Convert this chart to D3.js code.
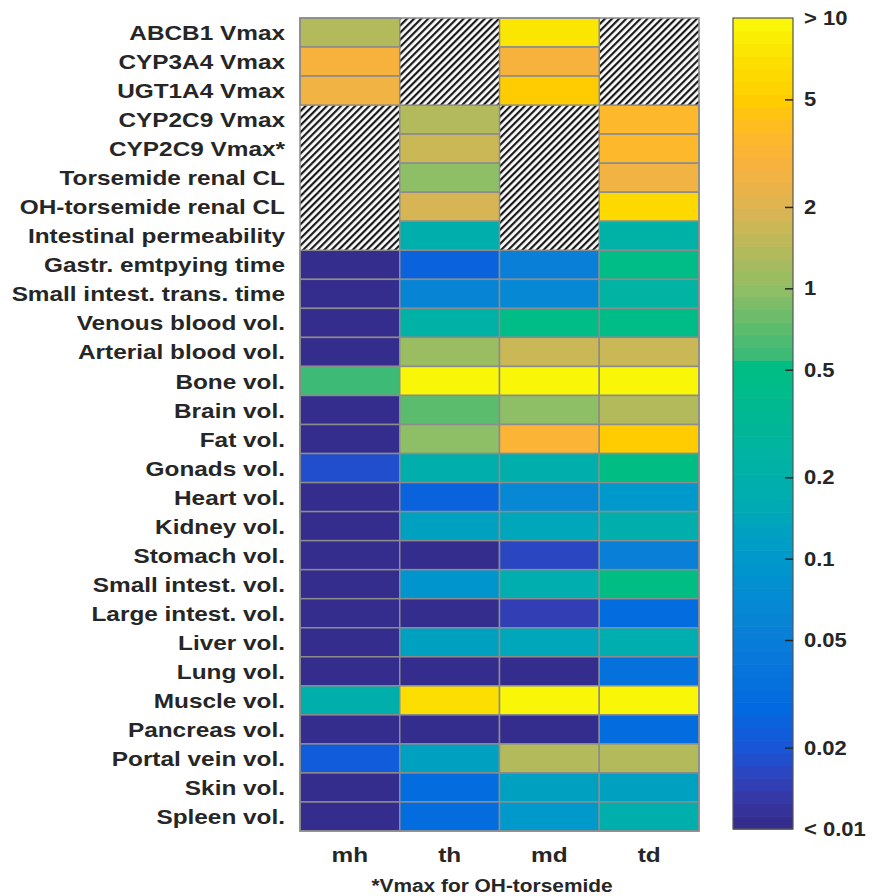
<!DOCTYPE html>
<html>
<head>
<meta charset="utf-8">
<script src="https://cdn.jsdelivr.net/npm/d3@7"></script>
<style>
  body { margin: 0; background: #fff; }
  text { font-family: "Liberation Sans", Arial, sans-serif; font-weight: bold; fill: #262626; }
</style>
</head>
<body>
<div id="main"></div>
<script>
// rows of the heatmap, top to bottom
var rowNames = ["ABCB1 Vmax", "CYP3A4 Vmax", "UGT1A4 Vmax", "CYP2C9 Vmax", "CYP2C9 Vmax*",
  "Torsemide renal CL", "OH-torsemide renal CL", "Intestinal permeability", "Gastr. emtpying time",
  "Small intest. trans. time", "Venous blood vol.", "Arterial blood vol.", "Bone vol.", "Brain vol.",
  "Fat vol.", "Gonads vol.", "Heart vol.", "Kidney vol.", "Stomach vol.", "Small intest. vol.",
  "Large intest. vol.", "Liver vol.", "Lung vol.", "Muscle vol.", "Pancreas vol.", "Portal vein vol.",
  "Skin vol.", "Spleen vol."];
var colNames = ["mh", "th", "md", "td"];

// values per column (null = not applicable, hatched)
var mhValues = [1.3, 2.9, 2.5, null, null, null, null, null, 0.005, 0.005, 0.005, 0.005, 0.55, 0.005,
  0.005, 0.018, 0.005, 0.005, 0.005, 0.005, 0.005, 0.005, 0.005, 0.2, 0.005, 0.022, 0.005, 0.005];
var thValues = [null, null, null, 1.4, 1.6, 0.95, 1.8, 0.2, 0.026, 0.06, 0.22, 1.05, 12, 0.72,
  1.0, 0.19, 0.026, 0.13, 0.005, 0.09, 0.005, 0.13, 0.005, 6.5, 0.005, 0.13, 0.03, 0.03];
var mdValues = [7.5, 2.9, 5, null, null, null, null, null, 0.055, 0.065, 0.45, 1.6, 12, 0.95,
  3.3, 0.2, 0.065, 0.14, 0.016, 0.18, 0.015, 0.14, 0.005, 12, 0.005, 1.4, 0.13, 0.1];
var tdValues = [null, null, null, 3.4, 3.4, 2.5, 6, 0.22, 0.45, 0.25, 0.45, 1.6, 12, 1.4,
  5, 0.5, 0.1, 0.2, 0.055, 0.5, 0.032, 0.18, 0.035, 12, 0.03, 1.4, 0.13, 0.2];

var barTicks = [10, 5, 2, 1, 0.5, 0.2, 0.1, 0.05, 0.02, 0.01];
var barLabels = ["> 10", "5", "2", "1", "0.5", "0.2", "0.1", "0.05", "0.02", "< 0.01"];

// colormap stops (parula-like, as seen in the colorbar)
var cmapStops = [0, 0.05, 0.1, 0.15, 0.233, 0.333, 0.405, 0.467, 0.53, 0.575, 0.58, 0.625, 0.667,
  0.72, 0.767, 0.83, 0.87, 0.9, 0.95, 1];
var cmapColors = ["#352a87", "#353cb0", "#1955d7", "#026ae0", "#0a7dd8", "#0098cd", "#00acb2",
  "#00b4a0", "#00ba8e", "#00be82", "#37ba78", "#64bc6c", "#91be64", "#b9b95a", "#deb452",
  "#fcb23a", "#ffbe1e", "#ffcd00", "#fce100", "#f8fa0a"];
var cmap = d3.scaleLinear().domain(cmapStops).range(cmapColors).interpolate(d3.interpolateRgb);
var nBands = 64;
var bandColors = d3.range(nBands).map(function(i) { return cmap((i + 0.5) / nBands); });

var svg = d3.select("#main").append("svg")
  .attr("width", 872)
  .attr("height", 896);

var columns = [mhValues, thValues, mdValues, tdValues];
var cells = [];
columns.forEach(function(vals, c) {
  vals.forEach(function(v, r) { cells.push({ row: rowNames[r], col: colNames[c], value: v }); });
});

var x = d3.scaleBand().domain(colNames).range([300, 699]);
var y = d3.scaleBand().domain(rowNames).range([18, 831]);

// log scale -> colormap band
var logT = d3.scaleLog().domain([0.01, 10]).range([0, 1]).clamp(true);
function colorOf(v) {
  var i = Math.min(nBands - 1, Math.floor(logT(v) * nBands));
  return bandColors[i];
}

var stretch = 1.16;

// hatch pattern
var defs = svg.append("defs");
var pat = defs.append("pattern")
  .attr("id", "hatch")
  .attr("patternUnits", "userSpaceOnUse")
  .attr("width", 5).attr("height", 5)
  .attr("patternTransform", "rotate(45)");
pat.append("rect").attr("width", 5).attr("height", 5).attr("fill", "#fff");
pat.append("rect").attr("width", 2.2).attr("height", 5).attr("fill", "#1a1a1a");

// hatched cells first (no borders between them)
svg.append("g").selectAll("rect")
  .data(cells.filter(function(d) { return d.value === null; }))
  .join("rect")
  .attr("x", function(d) { return x(d.col); })
  .attr("y", function(d) { return y(d.row); })
  .attr("width", x.bandwidth() + 0.5)
  .attr("height", y.bandwidth() + 0.5)
  .attr("fill", "url(#hatch)");

svg.append("g").selectAll("rect")
  .data(cells.filter(function(d) { return d.value !== null; }))
  .join("rect")
  .attr("x", function(d) { return x(d.col); })
  .attr("y", function(d) { return y(d.row); })
  .attr("width", x.bandwidth())
  .attr("height", y.bandwidth())
  .attr("fill", function(d) { return colorOf(d.value); })
  .attr("stroke", "#8c8c8c")
  .attr("stroke-width", 1.5);

// outer frame
svg.append("rect")
  .attr("x", 300).attr("y", 18)
  .attr("width", 399).attr("height", 813)
  .attr("fill", "none")
  .attr("stroke", "#8c8c8c")
  .attr("stroke-width", 1.5);

// row labels
svg.append("g").selectAll("text")
  .data(rowNames)
  .join("text")
  .attr("transform", function(d) {
    return "translate(285," + (y(d) + y.bandwidth() / 2) + ") scale(" + stretch + ",1)";
  })
  .attr("dy", "0.36em")
  .attr("text-anchor", "end")
  .attr("font-size", 21)
  .text(function(d) { return d; });

// column labels
svg.append("g").selectAll("text")
  .data(colNames)
  .join("text")
  .attr("transform", function(d) {
    return "translate(" + (x(d) + x.bandwidth() / 2) + ",862) scale(" + stretch + ",1)";
  })
  .attr("text-anchor", "middle")
  .attr("font-size", 21)
  .text(function(d) { return d; });

svg.append("text")
  .attr("transform", "translate(492,892) scale(" + stretch + ",1)")
  .attr("text-anchor", "middle")
  .attr("font-size", 18)
  .text("*Vmax for OH-torsemide");

// colorbar
var barY = d3.scaleLog().domain([0.01, 10]).range([829, 18]);
var barX0 = 733, barW = 60;
var bandH = (829 - 18) / nBands;
svg.append("g").selectAll("rect")
  .data(d3.range(nBands))
  .join("rect")
  .attr("x", barX0)
  .attr("y", function(i) { return 829 - (i + 1) * bandH; })
  .attr("width", barW)
  .attr("height", bandH + 0.6)
  .attr("fill", function(i) { return bandColors[i]; });

svg.append("rect")
  .attr("x", barX0).attr("y", 18)
  .attr("width", barW).attr("height", 811)
  .attr("fill", "none")
  .attr("stroke", "#555")
  .attr("stroke-width", 1.2);

var barAxis = d3.axisRight(barY)
  .tickValues(barTicks)
  .tickSize(-8)
  .tickFormat(function(d, i) { return barLabels[i]; });

var gAxis = svg.append("g")
  .attr("transform", "translate(" + (barX0 + barW) + ",0)")
  .call(barAxis);
gAxis.select(".domain").remove();
gAxis.selectAll(".tick line").attr("stroke", "#262626").attr("stroke-width", 1.5)
  .filter(function(d) { return d === 10 || d === 0.01; }).remove();
gAxis.selectAll(".tick text")
  .attr("x", 11 / 1.1)
  .attr("transform", "scale(1.1,1)")
  .attr("font-size", 20)
  .attr("font-family", "Liberation Sans, Arial, sans-serif")
  .attr("fill", "#262626");
</script>
</body>
</html>
